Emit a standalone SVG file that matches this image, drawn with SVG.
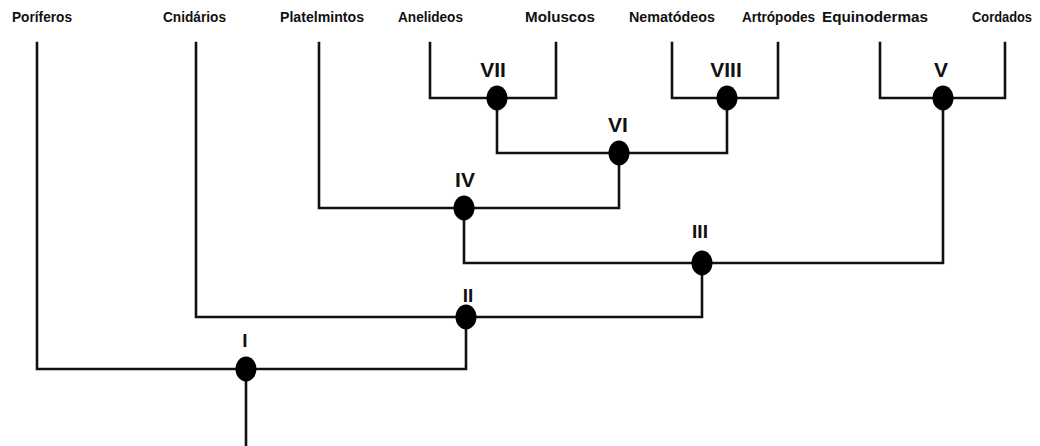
<svg xmlns="http://www.w3.org/2000/svg" width="1040" height="446" viewBox="0 0 1040 446">
<style>
.taxon{font-family:"Liberation Sans Narrow","Liberation Sans",Arial,sans-serif;font-weight:bold;font-size:15px;fill:#111}
.num{font-family:"Liberation Sans",Arial,sans-serif;font-weight:bold;font-size:21px;fill:#111;text-anchor:middle}
.edge{stroke:#111;stroke-width:2.6;fill:none;stroke-linejoin:miter;stroke-linecap:square}
.dot{fill:#000}
</style>
<rect width="1040" height="446" fill="#fff"/>
<g id="connectors">
<path class="edge" d="M37,43 V369 H466 V317"/>
<path class="edge" d="M246,369 V446"/>
<path class="edge" d="M196,43 V317 H702 V263"/>
<path class="edge" d="M319,43 V208 H619 V153"/>
<path class="edge" d="M464,208 V263 H943 V98"/>
<path class="edge" d="M430,43 V98 H556 V43"/>
<path class="edge" d="M497,98 V153 H727 V98"/>
<path class="edge" d="M672,43 V98 H778 V43"/>
<path class="edge" d="M880,43 V98 H1005 V43"/>
</g>
<g id="taxa">
<g id="poriferos"><text class="taxon" x="12" y="22" textLength="60" lengthAdjust="spacingAndGlyphs">Poríferos</text></g>
<g id="cnidarios"><text class="taxon" x="163" y="22" textLength="63" lengthAdjust="spacingAndGlyphs">Cnidários</text></g>
<g id="platelmintos"><text class="taxon" x="280" y="22" textLength="84" lengthAdjust="spacingAndGlyphs">Platelmintos</text></g>
<g id="anelideos"><text class="taxon" x="398" y="22" textLength="65" lengthAdjust="spacingAndGlyphs">Anelideos</text></g>
<g id="moluscos"><text class="taxon" x="525" y="22" textLength="70" lengthAdjust="spacingAndGlyphs">Moluscos</text></g>
<g id="nematodeos"><text class="taxon" x="629" y="22" textLength="86" lengthAdjust="spacingAndGlyphs">Nematódeos</text></g>
<g id="artropodes"><text class="taxon" x="742" y="22" textLength="73" lengthAdjust="spacingAndGlyphs">Artrópodes</text></g>
<g id="equinodermas"><text class="taxon" x="822" y="22" textLength="106" lengthAdjust="spacingAndGlyphs">Equinodermas</text></g>
<g id="cordados"><text class="taxon" x="972" y="22" textLength="60" lengthAdjust="spacingAndGlyphs">Cordados</text></g>
</g>
<g id="node-VII"><ellipse class="dot" cx="497" cy="98" rx="10.5" ry="12.5"/><text class="num" x="493" y="77">VII</text></g>
<g id="node-VIII"><ellipse class="dot" cx="727" cy="98" rx="10.5" ry="12.5"/><text class="num" x="726" y="77">VIII</text></g>
<g id="node-V"><ellipse class="dot" cx="943" cy="98" rx="10.5" ry="12.5"/><text class="num" x="941" y="77">V</text></g>
<g id="node-VI"><ellipse class="dot" cx="619" cy="153" rx="10.5" ry="12.5"/><text class="num" x="618" y="132">VI</text></g>
<g id="node-IV"><ellipse class="dot" cx="464" cy="208" rx="10.5" ry="12.5"/><text class="num" x="465" y="187">IV</text></g>
<g id="node-III"><ellipse class="dot" cx="702" cy="263" rx="10.5" ry="12.5"/><text class="num" x="700" y="238" style="font-size:19px">III</text></g>
<g id="node-II"><ellipse class="dot" cx="466" cy="317" rx="10.5" ry="12.5"/><text class="num" x="468" y="302" style="font-size:19px">II</text></g>
<g id="node-I"><ellipse class="dot" cx="246" cy="369" rx="10.5" ry="12.5"/><text class="num" x="245" y="347" style="font-size:19px">I</text></g>
</svg>
